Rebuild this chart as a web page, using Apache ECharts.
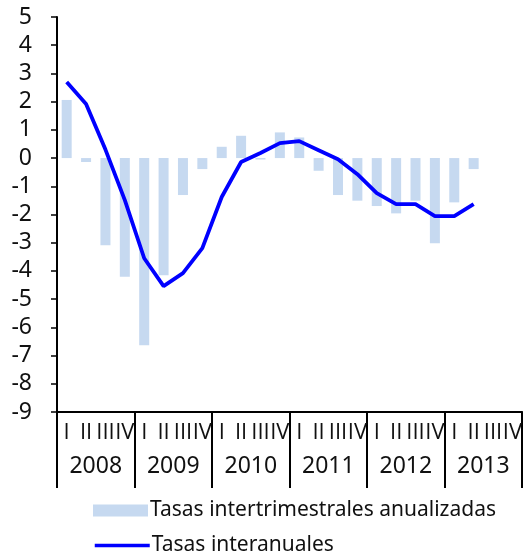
<!DOCTYPE html>
<html>
<head>
<meta charset="utf-8">
<script src="https://cdn.jsdelivr.net/npm/echarts@6/dist/echarts.min.js"></script>
<style>
html,body{margin:0;padding:0;background:#fff;}
#chart{width:525px;height:555px;}
</style>
</head>
<body>
<div id="chart"></div>
<script>
var quarters = ['I','II','III','IV','I','II','III','IV','I','II','III','IV','I','II','III','IV','I','II','III','IV','I','II','III','IV'];
var years = ['2008','2009','2010','2011','2012','2013'];
var yTicks = [-9,-8,-7,-6,-5,-4,-3,-2,-1,0,1,2,3,4,5];
var barName = 'Tasas intertrimestrales anualizadas';
var lineName = 'Tasas interanuales';
var barValues = [2.06,-0.14,-3.09,-4.21,-6.63,-4.15,-1.31,-0.39,0.40,0.79,-0.05,0.91,0.73,-0.45,-1.31,-1.51,-1.70,-1.96,-1.51,-3.02,-1.57,-0.39,null,null];
var lineValues = [2.70,1.92,0.30,-1.49,-3.55,-4.54,-4.08,-3.19,-1.38,-0.14,0.18,0.53,0.60,0.28,-0.04,-0.57,-1.24,-1.63,-1.63,-2.06,-2.06,-1.63,null,null];

var FONT = 'Noto Sans';
var chart = echarts.init(document.getElementById('chart'), null, {renderer:'canvas'});
chart.setOption({
  animation:false,
  textStyle:{fontFamily:FONT},
  grid:{left:57, right:1, top:17, bottom:143, containLabel:false},
  legend:[{
    orient:'horizontal', left:93, top:500, padding:0,
    itemWidth:55, itemHeight:12, itemGap:0,
    textStyle:{fontFamily:FONT, fontSize:21, color:'#111', padding:[0,0,-4,-3]},
    data:[{name:barName, icon:'rect'}]
  },{
    orient:'horizontal', left:93, top:535, padding:0,
    itemWidth:55, itemHeight:12, itemGap:0,
    textStyle:{fontFamily:FONT, fontSize:21, color:'#111', padding:[0,0,-4,-3]},
    data:[{name:lineName, itemStyle:{opacity:0}, lineStyle:{width:3.5, color:'#0000ff'}}]
  }],
  xAxis:[{
    type:'category', data:quarters, position:'bottom',
    axisLine:{show:true, onZero:false, lineStyle:{color:'#000', width:2}},
    axisTick:{show:false},
    axisLabel:{interval:0, margin:10, fontSize:22, color:'#111', fontFamily:'Open Sans'}
  },{
    type:'category', data:years, position:'bottom',
    axisLine:{show:false, onZero:false},
    axisTick:{show:true, length:76, interval:0, lineStyle:{color:'#000', width:2}},
    axisLabel:{interval:0, margin:43, fontSize:23, color:'#111', fontFamily:FONT}
  }],
  yAxis:{
    type:'value', min:yTicks[0], max:yTicks[yTicks.length-1], interval:1,
    axisLine:{show:true, lineStyle:{color:'#000', width:2}},
    axisTick:{show:true, length:6, lineStyle:{color:'#000', width:1.5}},
    splitLine:{show:false},
    axisLabel:{margin:25, fontSize:23, color:'#111', fontFamily:FONT}
  },
  series:[{
    name:barName, type:'bar', data:barValues, xAxisIndex:0,
    barWidth:10, itemStyle:{color:'#c6d9f0'}
  },{
    name:lineName, type:'line', data:lineValues, xAxisIndex:0,
    symbol:'none', z:5, lineStyle:{color:'#0000ff', width:3.8}, itemStyle:{color:'#0000ff'}
  }]
});
</script>
</body>
</html>
